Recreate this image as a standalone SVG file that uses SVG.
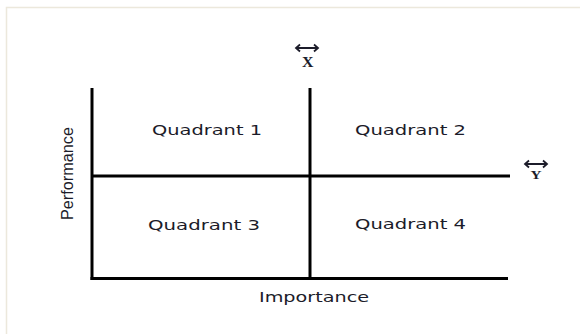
<svg xmlns="http://www.w3.org/2000/svg" width="580" height="334" viewBox="0 0 580 334">
  <style>
    .axis { stroke: #000; stroke-width: 3; fill: none; stroke-linecap: butt; }
    .lbl { font-family: "DejaVu Sans", Verdana, sans-serif; font-size: 14px; fill: #1c1c2a; }
    .vec { font-family: "Liberation Serif", "DejaVu Serif", serif; font-weight: bold; fill: #1c1c2a; }
    .arr { stroke: #1c1c2a; stroke-width: 1.8; fill: none; }
  </style>
  <rect width="580" height="334" fill="#fff"/>
  <!-- outer frame -->
  <rect x="6.5" y="7.5" width="600" height="400" fill="none" stroke="#ece8dc" stroke-width="1.5"/>

  <g id="connectors">
    <line class="axis" x1="92" y1="88" x2="92" y2="280"/>
    <line class="axis" x1="90.5" y1="278.5" x2="508" y2="278.5"/>
    <line class="axis" x1="310" y1="88" x2="310" y2="278"/>
    <line class="axis" x1="92" y1="176" x2="510" y2="176"/>
  </g>

  <g id="q1"><text class="lbl" x="152" y="135" textLength="110" lengthAdjust="spacingAndGlyphs">Quadrant 1</text></g>
  <g id="q2"><text class="lbl" x="355" y="135" textLength="111" lengthAdjust="spacingAndGlyphs">Quadrant 2</text></g>
  <g id="q3"><text class="lbl" x="148" y="230" textLength="112" lengthAdjust="spacingAndGlyphs">Quadrant 3</text></g>
  <g id="q4"><text class="lbl" x="355" y="229" textLength="111" lengthAdjust="spacingAndGlyphs">Quadrant 4</text></g>

  <g id="importance"><text class="lbl" x="259" y="302" textLength="110" lengthAdjust="spacingAndGlyphs">Importance</text></g>
  <g id="performance"><text class="lbl" transform="translate(73,220) rotate(-90)" x="0" y="0" textLength="93" lengthAdjust="spacingAndGlyphs" style="font-family:'Liberation Sans',Arial,sans-serif;font-size:16px">Performance</text></g>

  <g id="x-label">
    <path class="arr" d="M296 48 H318 M300 44.5 L296 48 L300 51.5 M314 44.5 L318 48 L314 51.5"/>
    <text class="vec" x="302" y="66.5" textLength="11.5" lengthAdjust="spacingAndGlyphs" style="font-size:15px">X</text>
  </g>
  <g id="y-label">
    <path class="arr" d="M525 164 H547 M529 160.5 L525 164 L529 167.5 M543 160.5 L547 164 L543 167.5"/>
    <text class="vec" x="530.5" y="178.5" textLength="11" lengthAdjust="spacingAndGlyphs" style="font-size:12.5px">Y</text>
  </g>
</svg>
